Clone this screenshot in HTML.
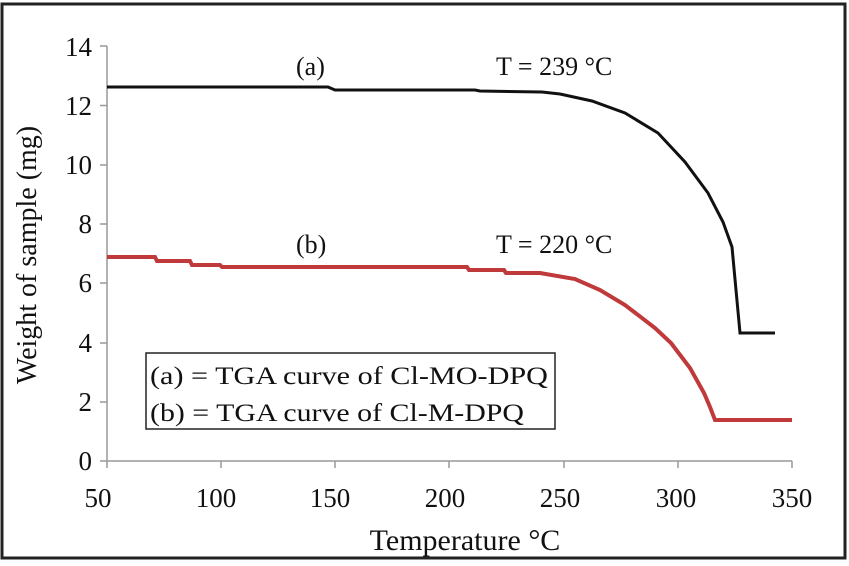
<!DOCTYPE html>
<html><head><meta charset="utf-8"><style>body{margin:0;background:#fff}svg{display:block}text{font-family:"Liberation Serif",serif;fill:#111}</style></head><body>
<svg width="849" height="566" viewBox="0 0 849 566">
<rect x="2" y="4" width="843" height="554" fill="#fff" stroke="#222" stroke-width="3"/>
<g stroke="#999" stroke-width="1.5">
<line x1="107" y1="46" x2="107" y2="461"/>
<line x1="100" y1="461" x2="792" y2="461"/>
<line x1="100" y1="46" x2="107" y2="46"/><line x1="100" y1="105.5" x2="107" y2="105.5"/><line x1="100" y1="165" x2="107" y2="165"/><line x1="100" y1="224" x2="107" y2="224"/><line x1="100" y1="283" x2="107" y2="283"/><line x1="100" y1="343" x2="107" y2="343"/><line x1="100" y1="402" x2="107" y2="402"/>
<line x1="107" y1="461" x2="107" y2="468"/><line x1="221" y1="461" x2="221" y2="468"/><line x1="335" y1="461" x2="335" y2="468"/><line x1="449" y1="461" x2="449" y2="468"/><line x1="564" y1="461" x2="564" y2="468"/><line x1="678" y1="461" x2="678" y2="468"/><line x1="792" y1="461" x2="792" y2="468"/>
</g>
<g font-size="27" text-anchor="end">
<text x="92" y="56">14</text><text x="92" y="115">12</text><text x="92" y="174">10</text><text x="92" y="233">8</text><text x="92" y="292">6</text><text x="92" y="352">4</text><text x="92" y="411">2</text><text x="92" y="470">0</text>
</g>
<g font-size="27" text-anchor="middle">
<text x="98" y="507">50</text><text x="216" y="507">100</text><text x="330" y="507">150</text><text x="445" y="507">200</text><text x="560" y="507">250</text><text x="676" y="507">300</text><text x="792" y="507">350</text>
</g>
<text x="465" y="550" font-size="30" text-anchor="middle">Temperature °C</text>
<text transform="translate(36,255) rotate(-90)" font-size="28" text-anchor="middle">Weight of sample (mg)</text>
<polyline fill="none" stroke="#111" stroke-width="3" points="107,87 328,87 335,90 475,90 480,91 542,92 560,94 592,101 625,113 658,133 685,162 708,193 723,222 732,247 736,290 740,333 775,333"/>
<polyline fill="none" stroke="#c0393b" stroke-width="4" points="107,257 155,257 157,261 190,261 192,265 220,265 222,267 467,267 469,270 504,270 506,273 540,273 575,279 600,290 625,305 655,328 671,343 690,368 704,393 710,407 715,420 792,420"/>
<g font-size="26">
<text x="296" y="75">(a)</text><text x="496" y="75">T = 239 °C</text>
<text x="296" y="253">(b)</text><text x="496" y="253">T = 220 °C</text>
</g>
<rect x="146" y="353" width="409" height="76" fill="#fff" stroke="#222" stroke-width="1.5"/>
<g font-size="25">
<text x="150" y="384" textLength="398" lengthAdjust="spacingAndGlyphs">(a) = TGA curve of Cl-MO-DPQ</text>
<text x="150" y="421" textLength="374" lengthAdjust="spacingAndGlyphs">(b) = TGA curve of Cl-M-DPQ</text>
</g>
</svg>
</body></html>
